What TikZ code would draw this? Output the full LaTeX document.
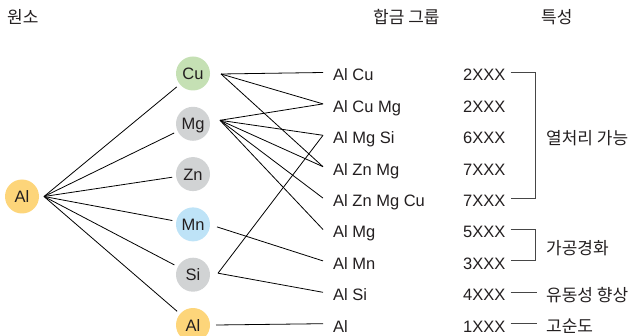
\documentclass[tikz,border=0pt]{standalone}
\usepackage{fontspec}
\setmainfont{Liberation Sans}
\newfontfamily\kr{Noto Sans CJK KR}
\definecolor{ink}{RGB}{35,31,32}
\definecolor{brk}{RGB}{70,70,70}
\definecolor{fillAl}{RGB}{253,213,122}
\definecolor{fillCu}{RGB}{197,224,180}
\definecolor{fillMn}{RGB}{190,227,247}
\definecolor{fillGr}{RGB}{209,211,212}
\begin{document}
\begin{tikzpicture}[x=1pt,y=-1pt,
  font=\fontsize{16.5}{18}\selectfont, text=ink,
  elem/.style={circle, minimum size=34pt, inner sep=0pt, outer sep=4pt,
    text height=12pt, text depth=0pt},
  alloy/.style={anchor=base west, inner xsep=10pt, inner ysep=0pt,
    text height=17pt, text depth=0pt},
  code/.style={anchor=base west, inner xsep=5pt, inner ysep=0pt,
    text height=17pt, text depth=0pt},
  prop/.style={anchor=base west, inner xsep=9pt, inner ysep=0pt,
    font=\kr\fontsize{17}{19}\selectfont},
  head/.style={anchor=base west, inner sep=0pt,
    font=\kr\fontsize{17}{19}\selectfont},
  link/.style={draw=black, line width=0.8pt},
  bracket/.style={draw=brk, line width=1.1pt}]
\useasboundingbox (0,0) rectangle (639,336);

% column headings
\node[head] (h1) at (7,23.5) {원소};
\node[head] (h2) at (373,23.5) {합금 그룹};
\node[head] (h3) at (541,23.5) {특성};

% elements
\node[elem, fill=fillAl] (al0) at (22,196.5) {Al};
\node[elem, fill=fillCu] (cu) at (193,73.5) {Cu};
\node[elem, fill=fillGr] (mg) at (193,123.8) {Mg};
\node[elem, fill=fillGr] (zn) at (193,174.1) {Zn};
\node[elem, fill=fillMn] (mn) at (193,224.4) {Mn};
\node[elem, fill=fillGr] (si) at (193,274.7) {Si};
\node[elem, fill=fillAl] (al) at (193,325) {Al};

% alloy groups
\node[alloy] (a1) at (323,81.0) {Al Cu};
\node[alloy] (a2) at (323,112.4) {Al Cu Mg};
\node[alloy] (a3) at (323,143.8) {Al Mg Si};
\node[alloy] (a4) at (323,175.2) {Al Zn Mg};
\node[alloy] (a5) at (323,206.6) {Al Zn Mg Cu};
\node[alloy] (a6) at (323,238.0) {Al Mg};
\node[alloy] (a7) at (323,269.4) {Al Mn};
\node[alloy] (a8) at (323,300.8) {Al Si};
\node[alloy] (a9) at (323,332.2) {Al};

% series designations
\node[code] (c1) at (458,81.0) {2XXX};
\node[code] (c2) at (458,112.4) {2XXX};
\node[code] (c3) at (458,143.8) {6XXX};
\node[code] (c4) at (458,175.2) {7XXX};
\node[code] (c5) at (458,206.6) {7XXX};
\node[code] (c6) at (458,238.0) {5XXX};
\node[code] (c7) at (458,269.4) {3XXX};
\node[code] (c8) at (458,300.8) {4XXX};
\node[code] (c9) at (458,332.2) {1XXX};

% properties
\node[prop] (p1) at (537,144.3) {열처리 가능};
\node[prop] (p2) at (537,254.2) {가공경화};
\node[prop] (p3) at (537,301.3) {유동성 향상};
\node[prop] (p4) at (537,332.7) {고순도};

% fan-out points
\coordinate (hub) at ([xshift=1pt]al0.east);
\coordinate (cuR) at ([xshift=7pt,yshift=-0.5pt]cu.east);
\coordinate (mgR) at ([xshift=6pt,yshift=3.5pt]mg.east);
\coordinate (mnR) at ([xshift=3pt,yshift=-2.5pt]mn.east);
\coordinate (siR) at ([xshift=4pt,yshift=1.5pt]si.east);
\coordinate (alR) at ([xshift=2pt]al.east);

% base metal to alloying elements
\foreach \e in {cu,mg,zn,mn,si,al} \draw[link] (hub) -- (\e);

% elements to alloy groups
\draw[link] (cuR) -- (a1.west);
\draw[link] (cuR) -- (a2.west);
\draw[link] (cuR) -- (a4.west);
\foreach \a in {a2,a3,a4,a5,a6} \draw[link] (mgR) -- (\a.west);
\draw[link] (mnR) -- (a7.west);
\draw[link] (siR) -- (a3.west);
\draw[link] (siR) -- (a8.west);
\draw[link] (alR) -- (a9.west);

% series to properties
\draw[bracket] (c1.east) -- ++(25,0) |- (c5.east);
\draw[bracket] (c6.east) -- ++(25,0) |- (c7.east);
\draw[bracket] (c8.east) -- (c8.east -| p3.west);
\draw[bracket] (c9.east) -- (c9.east -| p4.west);
\end{tikzpicture}
\end{document}
